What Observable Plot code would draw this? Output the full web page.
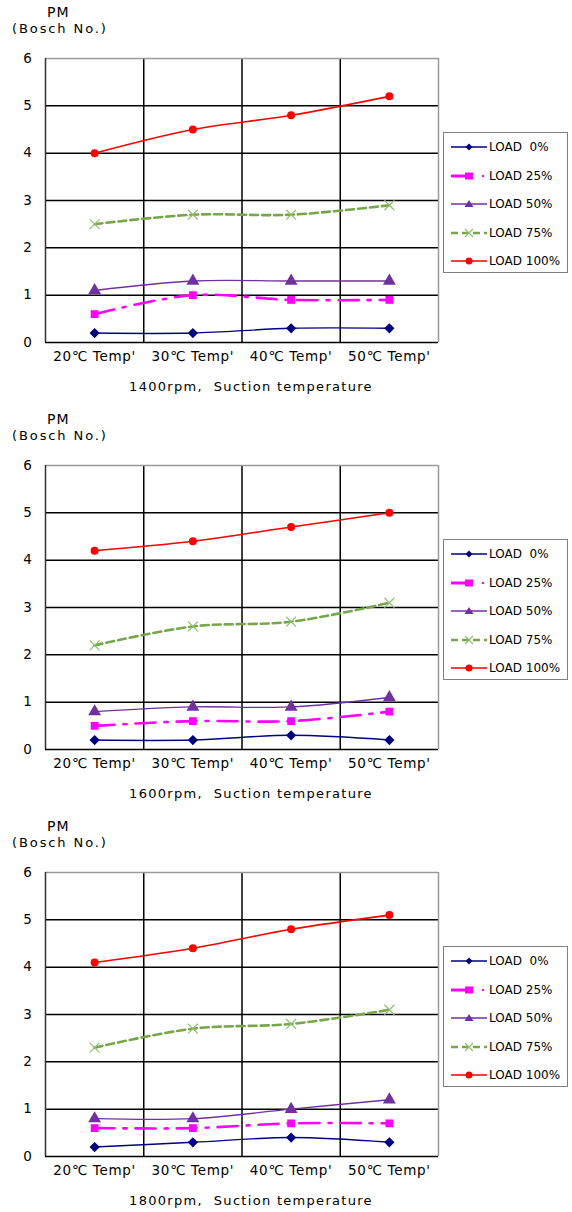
<!DOCTYPE html>
<html><head><meta charset="utf-8">
<script src="https://cdn.jsdelivr.net/npm/d3@7"></script>
<script src="https://cdn.jsdelivr.net/npm/@observablehq/plot@0.6"></script>
<style>
body{margin:0;background:#fff;}
#root{position:relative;width:572px;height:1212px;font-family:"DejaVu Sans",sans-serif;color:#000;overflow:hidden;}
.lab{position:absolute;white-space:pre;line-height:16px;font-size:13px;}
.chart{position:absolute;left:0;}
.legend{position:absolute;left:443px;width:125px;height:141px;border:1px solid #808080;background:#fff;box-sizing:border-box;}
.row{position:absolute;left:0;width:123px;height:16px;}
.row svg{position:absolute;left:7px;top:0;}
.row span{position:absolute;left:45px;top:0;line-height:16px;font-size:12px;white-space:pre;}
</style></head><body><div id="root"></div>
<script>
// ---- data ----
const temps = ["20℃ Temp'", "30℃ Temp'", "40℃ Temp'", "50℃ Temp'"];
const loads = ["LOAD  0%", "LOAD 25%", "LOAD 50%", "LOAD 75%", "LOAD 100%"];
const rpmTitles = ["1400rpm,  Suction temperature", "1600rpm,  Suction temperature", "1800rpm,  Suction temperature"];
const yTicks = [0, 1, 2, 3, 4, 5, 6];

const load0_1400   = [0.2, 0.2, 0.3, 0.3];
const load25_1400  = [0.6, 1.0, 0.9, 0.9];
const load50_1400  = [1.1, 1.3, 1.3, 1.3];
const load75_1400  = [2.5, 2.7, 2.7, 2.9];
const load100_1400 = [4.0, 4.5, 4.8, 5.2];

const load0_1600   = [0.2, 0.2, 0.3, 0.2];
const load25_1600  = [0.5, 0.6, 0.6, 0.8];
const load50_1600  = [0.8, 0.9, 0.9, 1.1];
const load75_1600  = [2.2, 2.6, 2.7, 3.1];
const load100_1600 = [4.2, 4.4, 4.7, 5.0];

const load0_1800   = [0.2, 0.3, 0.4, 0.3];
const load25_1800  = [0.6, 0.6, 0.7, 0.7];
const load50_1800  = [0.8, 0.8, 1.0, 1.2];
const load75_1800  = [2.3, 2.7, 2.8, 3.1];
const load100_1800 = [4.1, 4.4, 4.8, 5.1];

// ---- styles ----
const colors  = ["#000080", "#ff00ff", "#7030a0", "#77a64a", "#ff0000"];
const mColors = ["#000080", "#ff00ff", "#7030a0", "#8fc070", "#ff0000"];
const symbols = ["diamond2", "square", "triangle", "times", "circle"];
const radii   = [4.6, 4.4, 4.8, 4.6, 4.0];
const widths  = [1.4, 2.6, 1.4, 2.6, 1.6];
const dashes  = [null, "20,9,3,9", null, "8,4", null];

const charts = [
  [load0_1400, load25_1400, load50_1400, load75_1400, load100_1400],
  [load0_1600, load25_1600, load50_1600, load75_1600, load100_1600],
  [load0_1800, load25_1800, load50_1800, load75_1800, load100_1800]
];

const root = document.getElementById("root");
const blockStep = 407;
const xPos = d => temps.indexOf(d.temp) + 0.5;

charts.forEach((series, c) => {
  const top = c * blockStep;
  const rows = [];
  series.forEach((vals, i) => vals.forEach((v, j) => rows.push({load: loads[i], li: i, temp: temps[j], pm: v})));

  const marks = [
    Plot.ruleY([1, 2, 3, 4, 5], {stroke: "#000", strokeWidth: 1.5}),
    Plot.ruleX([1, 2, 3], {stroke: "#000", strokeWidth: 1.5}),
    Plot.ruleY([6], {stroke: "#9a9a9a", strokeWidth: 1.5}),
    Plot.ruleX([4], {stroke: "#9a9a9a", strokeWidth: 1.5}),
    Plot.ruleX([0], {stroke: "#333", strokeWidth: 1.5}),
    Plot.ruleY([0], {stroke: "#000", strokeWidth: 1.5})
  ];
  loads.forEach((ld, i) => {
    const data = rows.filter(d => d.li === i);
    marks.push(Plot.line(data, {x: xPos, y: "pm", stroke: colors[i], strokeWidth: widths[i],
      strokeDasharray: dashes[i] || undefined, curve: "catmull-rom"}));
  });
  loads.forEach((ld, i) => {
    const data = rows.filter(d => d.li === i);
    const isStroke = symbols[i] === "times";
    marks.push(Plot.dot(data, {x: xPos, y: "pm", symbol: () => symbols[i], r: radii[i],
      fill: isStroke ? "none" : mColors[i], stroke: isStroke ? mColors[i] : "none", strokeWidth: isStroke ? 1.2 : 0}));
  });

  const svg = Plot.plot({
    width: 440, height: 400,
    marginLeft: 45, marginRight: 2, marginTop: 58, marginBottom: 58,
    style: {fontFamily: "DejaVu Sans", fontSize: "13.5px", color: "#000", background: "transparent", overflow: "visible", letterSpacing: "0.7px"},
    x: {domain: [0, 4], ticks: [0.5, 1.5, 2.5, 3.5], tickFormat: v => temps[Math.floor(v)], tickSize: 0, tickPadding: 9, label: null},
    y: {domain: [0, 6], ticks: yTicks, tickFormat: d => String(d), tickSize: 0, tickPadding: 13, label: null},
    symbol: {type: "identity"},
    marks
  });
  const wrap = document.createElement("div");
  wrap.className = "chart";
  wrap.style.top = top + "px";
  wrap.appendChild(svg);
  root.appendChild(wrap);

  const addLab = (txt, left, centerY, extra) => {
    const d = document.createElement("div");
    d.className = "lab";
    d.textContent = txt;
    d.style.left = left + "px";
    d.style.top = (top + centerY - 8) + "px";
    Object.assign(d.style, extra || {});
    root.appendChild(d);
    return d;
  };
  addLab("PM", 47, 12, {letterSpacing: "1px", fontSize: "14px"});
  addLab("(Bosch No.)", 12, 29, {letterSpacing: "1.9px"});
  addLab(rpmTitles[c], 0, 387, {letterSpacing: "1.3px", width: "502px", textAlign: "center"});

  // legend
  const lg = document.createElement("div");
  lg.className = "legend";
  lg.style.top = (top + 132) + "px";
  loads.forEach((ld, i) => {
    const r = document.createElement("div");
    r.className = "row";
    r.style.top = (14 + i * 28.5 - 8) + "px";
    let shape = "";
    const cx = 18, cy = 8;
    if (symbols[i] === "diamond2") shape = `<path d="M${cx},${cy-3.5}L${cx+3.5},${cy}L${cx},${cy+3.5}L${cx-3.5},${cy}Z" fill="${mColors[i]}"/>`;
    if (symbols[i] === "square") shape = `<rect x="${cx-4}" y="${cy-3.5}" width="8" height="7" fill="${mColors[i]}"/>`;
    if (symbols[i] === "triangle") shape = `<path d="M${cx},${cy-4}L${cx+4.5},${cy+3}L${cx-4.5},${cy+3}Z" fill="${mColors[i]}"/>`;
    if (symbols[i] === "times") shape = `<path d="M${cx-4},${cy-4}L${cx+4},${cy+4}M${cx+4},${cy-4}L${cx-4},${cy+4}" stroke="${mColors[i]}" stroke-width="1.2"/>`;
    if (symbols[i] === "circle") shape = `<circle cx="${cx}" cy="${cy}" r="3.5" fill="${mColors[i]}"/>`;
    let line;
    if (i === 1) line = `<line x1="0" x2="20" y1="8" y2="8" stroke="${colors[i]}" stroke-width="3"/><rect x="31" y="7" width="2" height="2" fill="${colors[i]}"/>`;
    else if (i === 3) line = `<line x1="0" x2="36" y1="8" y2="8" stroke="${colors[i]}" stroke-width="2.4" stroke-dasharray="7,4"/>`;
    else line = `<line x1="0" x2="36" y1="8" y2="8" stroke="${colors[i]}" stroke-width="1.4"/>`;
    r.innerHTML = `<svg width="38" height="16">${line}${shape}</svg><span>${ld}</span>`;
    lg.appendChild(r);
  });
  root.appendChild(lg);
});
</script>
</body></html>
